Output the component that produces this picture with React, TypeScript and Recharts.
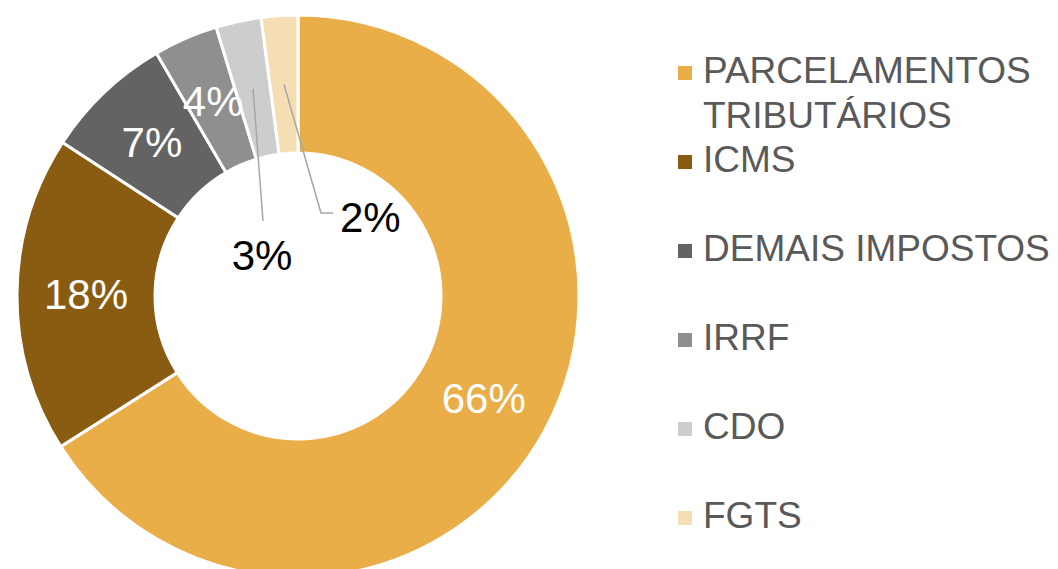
import React from "react";
import { PieChart, Pie, Cell, Legend } from "recharts";

const categories = ["PARCELAMENTOS TRIBUTÁRIOS", "ICMS", "DEMAIS IMPOSTOS", "IRRF", "CDO", "FGTS"];
const shares = [66.0, 18.2, 7.4, 3.7, 2.6, 2.1];
const colors = ["#EAAE48", "#8A5C12", "#636363", "#8F8F8F", "#CDCDCD", "#F5DEB3"];
const outsideLabels = [false, false, false, false, true, true];

const data = categories.map((name, i) => ({ name, value: shares[i] }));

const RAD = Math.PI / 180;
const FONT = "'Liberation Sans', Arial, sans-serif";

const renderLabel = (props: any) => {
  const { cx, cy, midAngle, innerRadius, outerRadius, percent, index } = props;
  const r = (innerRadius + outerRadius) / 2;
  const x = cx + r * Math.cos(-midAngle * RAD);
  const y = cy + r * Math.sin(-midAngle * RAD);
  const text = `${Math.round(percent * 100)}%`;
  if (!outsideLabels[index]) {
    return (
      <text x={x} y={y} fill="#fff" fontSize={42} fontFamily={FONT} textAnchor="middle" dominantBaseline="central">
        {text}
      </text>
    );
  }
  if (index === 4) {
    const ex = cx - 35;
    const ey = cy - 75;
    return (
      <g>
        <polyline points={`${x},${y} ${ex},${ey}`} stroke="#A6A6A6" strokeWidth={1.5} fill="none" />
        <text x={cx - 36} y={cy - 41} fill="#000" fontSize={42} fontFamily={FONT} textAnchor="middle" dominantBaseline="central">
          {text}
        </text>
      </g>
    );
  }
  const ex = cx + 23;
  const ey = cy - 83;
  return (
    <g>
      <polyline points={`${x},${y} ${ex},${ey} ${ex + 12},${ey}`} stroke="#A6A6A6" strokeWidth={1.5} fill="none" />
      <text x={ex + 19} y={ey + 4} fill="#000" fontSize={42} fontFamily={FONT} textAnchor="start" dominantBaseline="central">
        {text}
      </text>
    </g>
  );
};

const LegendContent = () => {
  return (
    <div style={{ position: "relative", width: 380, height: 520, fontFamily: FONT }}>
      {categories.map((name, i) => (
        <div key={name} style={{ position: "absolute", left: 0, top: i * 89, width: 380 }}>
          <div style={{ position: "absolute", left: 0, top: 18, width: 14, height: 14, background: colors[i] }} />
          <div style={{ position: "absolute", left: 25, top: 0, width: 350, fontSize: 37, lineHeight: "45px", color: "#595959" }}>
            {name}
          </div>
        </div>
      ))}
    </div>
  );
};

export default function App() {
  return (
    <PieChart width={1050} height={561}>
      <Pie
        data={data}
        dataKey="value"
        nameKey="name"
        cx={285}
        cy={283}
        innerRadius={143}
        outerRadius={281}
        startAngle={90}
        endAngle={-270}
        stroke="#fff"
        strokeWidth={3}
        label={renderLabel}
        labelLine={false}
        isAnimationActive={false}
      >
        {data.map((d, i) => (
          <Cell key={d.name} fill={colors[i]} />
        ))}
      </Pie>
      <Legend
        content={<LegendContent />}
        layout="vertical"
        wrapperStyle={{ position: "absolute", left: 670, top: 40, width: 380 }}
      />
    </PieChart>
  );
}
